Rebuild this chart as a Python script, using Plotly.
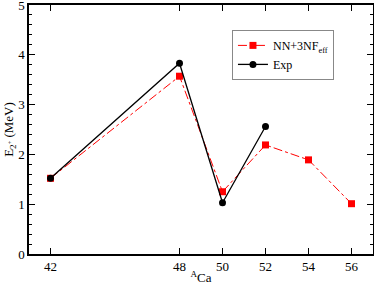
import plotly.graph_objects as go

mass_nn = [42, 48, 50, 52, 54, 56]
e_nn = [1.52, 3.57, 1.25, 2.19, 1.89, 1.01]
mass_exp = [42, 48, 50, 52]
e_exp = [1.52, 3.83, 1.03, 2.56]
x_ticks = [42, 48, 50, 52, 54, 56]

fig = go.Figure()
fig.add_trace(go.Scatter(
    x=mass_nn, y=e_nn, mode="lines+markers", name="NN+3NF<sub>eff</sub>",
    line=dict(color="red", width=1, dash="dashdot"),
    marker=dict(symbol="square", size=7, color="red")))
fig.add_trace(go.Scatter(
    x=mass_exp, y=e_exp, mode="lines+markers", name="Exp",
    line=dict(color="black", width=1.3),
    marker=dict(symbol="circle", size=7, color="black")))

fam = "Liberation Serif, Times New Roman, Times, serif"
font = dict(family=fam, size=13, color="black")
fig.update_layout(
    width=374, height=289,
    margin=dict(l=29, r=1, t=5, b=35),
    paper_bgcolor="white", plot_bgcolor="white",
    font=font,
    showlegend=True,
    legend=dict(x=0.59, y=0.9, xanchor="left", yanchor="top",
                bordercolor="#888888", borderwidth=1, bgcolor="white",
                font=dict(family=fam, size=12),
                tracegroupgap=0, itemwidth=30),
)
fig.update_xaxes(
    range=[41, 57], tickvals=x_ticks, ticktext=[str(v) for v in x_ticks],
    ticks="inside", ticklen=6, tickwidth=1, tickcolor="black", showgrid=False, zeroline=False,
    showline=True, linecolor="black", linewidth=1.5, mirror="allticks",
    automargin=False,
    title=dict(text="<sup>A</sup>Ca", standoff=0, font=dict(family=fam, size=13)),
    tickfont=dict(family=fam, size=13),
)
fig.update_yaxes(
    range=[0, 5], tickvals=[0, 1, 2, 3, 4, 5], ticks="inside", ticklen=6, tickwidth=1, tickcolor="black",
    minor=dict(dtick=0.2, ticks="inside", ticklen=3, tickcolor="black", showgrid=False),
    showgrid=False, zeroline=False, ticklabeloverflow="allow",
    showline=True, linecolor="black", linewidth=1.5, mirror="allticks",
    automargin=False,
    title=dict(text="E<sub>2<sup>+</sup></sub> (MeV)", standoff=0, font=dict(family=fam, size=13)),
    tickfont=dict(family=fam, size=13),
)
fig.write_html("out.html", config={"displayModeBar": False},
               post_script="document.body.style.margin='0';document.body.style.overflow='hidden';")
